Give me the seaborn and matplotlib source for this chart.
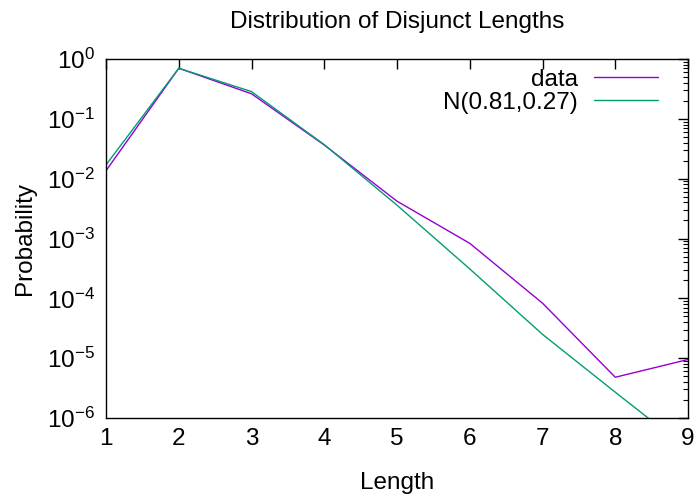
import numpy as np
import pandas as pd
import matplotlib
matplotlib.use("Agg")
import matplotlib.pyplot as plt
import seaborn as sns
from matplotlib.ticker import LogLocator, NullFormatter

# values
lengths = [1, 2, 3, 4, 5, 6, 7, 8, 9]
data_prob = [0.0136, 0.70, 0.262, 0.0365, 0.0042, 0.00083, 8.3e-5, 4.8e-6, 9.5e-6]
fit_prob = [0.017, 0.70, 0.285, 0.037, 0.0036, 0.00031, 2.5e-5, 2.7e-6, 3.0e-7]
fit_label = "N(0.81,0.27)"

sns.set_style("white")
plt.rcParams['font.family'] = ['Liberation Sans', 'DejaVu Sans']
plt.rcParams['text.color'] = 'black'
plt.rcParams['axes.labelcolor'] = 'black'
plt.rcParams['xtick.color'] = 'black'
plt.rcParams['ytick.color'] = 'black'
fs = 17.5

fig = plt.figure(figsize=(6.98, 4.94), dpi=100)
ax = fig.add_axes([0.1519, 0.1538, 0.8338, 0.7268])

df_data = pd.DataFrame({"Length": lengths, "Probability": data_prob})
df_fit = pd.DataFrame({"Length": lengths, "Probability": fit_prob})

sns.lineplot(data=df_data, x="Length", y="Probability", ax=ax,
             color="#9400D3", linewidth=1.0, label="data")
sns.lineplot(data=df_fit, x="Length", y="Probability", ax=ax,
             color="#009E73", linewidth=1.0, label=fit_label)

ax.set_yscale("log")
ax.set_xlim(1, 9)
ax.set_ylim(1e-6, 1)
ax.set_xticks(lengths)
ax.yaxis.set_major_locator(LogLocator(base=10, numticks=10))
ax.yaxis.set_minor_locator(LogLocator(base=10, subs=np.arange(2, 10), numticks=100))
ax.yaxis.set_minor_formatter(NullFormatter())

for s in ax.spines.values():
    s.set_color("black")
    s.set_linewidth(1.0)

ax.tick_params(which="both", direction="in", top=True, right=True,
               labelsize=fs, color="black", labelcolor="black")
ax.tick_params(which="major", length=7, width=1.0)
ax.tick_params(which="minor", length=3.5, width=0.8)
ax.tick_params(axis="x", which="major", pad=7)
ax.tick_params(axis="y", which="major", pad=8)

ax.set_xlabel("Length", fontsize=fs, labelpad=16, color="black")
ax.set_ylabel("Probability", fontsize=fs, labelpad=8, color="black")
ax.set_title("Distribution of Disjunct Lengths", fontsize=fs, pad=22, color="black")

leg = ax.legend(loc="upper right", frameon=False, fontsize=fs, markerfirst=False,
                handlelength=2.63, handletextpad=0.66, borderaxespad=0.0,
                labelspacing=0.05, bbox_to_anchor=(0.965, 1.0))
for t in leg.get_texts():
    t.set_ha("right")
    t.set_color("black")

fig.savefig("out.png", dpi=100)
